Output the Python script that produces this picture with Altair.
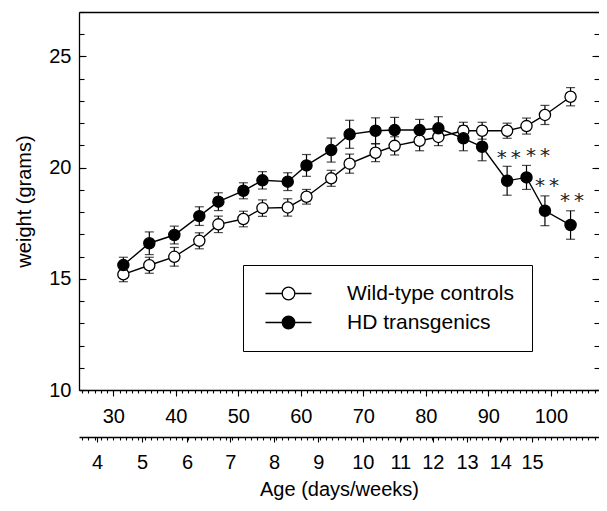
import altair as alt
import pandas as pd

# ---- data ----
days = [31.6, 35.75, 39.75, 43.75, 46.8, 50.8, 53.85, 57.9, 60.9, 64.85, 67.8,
        71.95, 75.0, 79.0, 82.0, 86.0, 89.0, 93.0, 96.1, 99.05, 103.15]
wt_weight = [15.20, 15.61, 15.99, 16.71, 17.45, 17.69, 18.18, 18.21, 18.69, 19.52, 20.18,
             20.67, 20.98, 21.21, 21.38, 21.66, 21.66, 21.66, 21.87, 22.37, 23.19]
wt_sem = [0.33, 0.36, 0.42, 0.36, 0.37, 0.35, 0.37, 0.39, 0.33, 0.36, 0.43,
          0.40, 0.41, 0.45, 0.39, 0.38, 0.38, 0.34, 0.36, 0.43, 0.41]
hd_weight = [15.62, 16.60, 16.97, 17.82, 18.47, 18.96, 19.43, 19.37, 20.10, 20.79, 21.50,
             21.66, 21.69, 21.69, 21.77, 21.32, 20.94, 19.41, 19.56, 18.06, 17.42]
hd_sem = [0.35, 0.51, 0.40, 0.42, 0.40, 0.36, 0.39, 0.40, 0.49, 0.54, 0.63,
          0.58, 0.57, 0.48, 0.52, 0.56, 0.63, 0.65, 0.54, 0.67, 0.64]
groups = ["Wild-type controls", "HD transgenics"]

sig_days = [93.25, 97.94, 99.38, 103.38]
sig_weight = [20.57, 20.67, 19.29, 18.62]
sig_text = ["*\u2009*", "*\u2009*", "*\u2009*", "*\u2009*"]

day_major = [30, 40, 50, 60, 70, 80, 90, 100]
day_minor = list(range(25, 108))
week_labels = ["4", "5", "6", "7", "8", "9", "10", "11", "12", "13", "14", "15"]
week_pos = [27.4, 34.6, 41.8, 48.7, 55.7, 62.8, 69.9, 75.9, 81.1, 86.6, 91.9, 97.0]
y_major = [10, 15, 20, 25]
y_minor = list(range(10, 28))

rows = []
for g, w, s in [(groups[0], wt_weight, wt_sem), (groups[1], hd_weight, hd_sem)]:
    for d, wv, sv in zip(days, w, s):
        rows.append({"group": g, "day": d, "weight": wv, "lo": wv - sv, "hi": wv + sv})
df = pd.DataFrame(rows)
sig = pd.DataFrame({"day": sig_days, "weight": sig_weight, "t": sig_text})

W, H = 520, 378
XDOM = [24.5, 107.7]
YDOM = [10, 27]
FONT = "Liberation Sans"
FS = 20

xs = alt.Scale(domain=XDOM, nice=False, zero=False)
ys = alt.Scale(domain=YDOM, nice=False, zero=False)
base = alt.Chart(df)


def ax_layer(xaxis=None, yaxis=None):
    return base.mark_point(opacity=0).encode(
        x=alt.X("day:Q", scale=xs, axis=xaxis),
        y=alt.Y("weight:Q", scale=ys, axis=yaxis),
    )


common = dict(grid=False, domainColor="black", tickColor="black", labelColor="black",
              labelFont=FONT, labelFontSize=FS, titleFont=FONT, titleFontSize=FS,
              titleColor="black", titleFontWeight="normal", domainWidth=1.3, tickWidth=1.1)

layers = [
    # days axis, major
    ax_layer(xaxis=alt.Axis(orient="bottom", values=day_major, tickSize=6, labelPadding=10,
                            title=None, labelFlush=False, **common)),
    # days axis, minor
    ax_layer(xaxis=alt.Axis(orient="bottom", values=day_minor, tickSize=3, labels=False,
                            domain=False, title=None, **common)),
    # weeks axis
    ax_layer(xaxis=alt.Axis(orient="bottom", offset=47, values=week_pos, tickSize=5,
                            labelPadding=10, labelFlush=False,
                            labelExpr="%s[indexof(%s, datum.value)]" % (week_labels, week_pos),
                            title="Age (days/weeks)", titlePadding=7, **common)),
    ax_layer(xaxis=alt.Axis(orient="bottom", offset=47, values=day_minor, tickSize=3,
                            labels=False, domain=False, title=None, **common)),
    # top border
    ax_layer(xaxis=alt.Axis(orient="top", ticks=False, labels=False, title=None, **common)),
    # left labels
    ax_layer(yaxis=alt.Axis(orient="left", values=y_major, ticks=False, tickSize=0,
                            labelPadding=8, title="weight (grams)", titlePadding=14, **common)),
    # left inward ticks
    ax_layer(yaxis=alt.Axis(orient="right", offset=-W, values=y_minor, tickSize=5,
                            labels=False, domain=False, title=None, **common)),
    ax_layer(yaxis=alt.Axis(orient="right", offset=-W, values=y_major, tickSize=7,
                            labels=False, domain=False, title=None, **common)),
    # right inward ticks
    ax_layer(yaxis=alt.Axis(orient="left", offset=-W, values=y_minor, tickSize=5,
                            labels=False, domain=False, title=None, **common)),
    ax_layer(yaxis=alt.Axis(orient="left", offset=-W, values=y_major, tickSize=7,
                            labels=False, domain=False, title=None, **common)),
]

X = alt.X("day:Q", scale=xs, axis=None)
Y = alt.Y("weight:Q", scale=ys, axis=None)

lines = base.mark_line(color="black", strokeWidth=1.4).encode(
    x=X, y=Y, detail="group:N", order="day:Q")
err = base.mark_rule(color="black", strokeWidth=1.2).encode(
    x=X, y=alt.Y("lo:Q", scale=ys, axis=None), y2="hi:Q")
cap_lo = base.mark_tick(color="black", orient="horizontal", size=9, thickness=1.2).encode(
    x=X, y=alt.Y("lo:Q", scale=ys, axis=None))
cap_hi = base.mark_tick(color="black", orient="horizontal", size=9, thickness=1.2).encode(
    x=X, y=alt.Y("hi:Q", scale=ys, axis=None))

SYM = "M-3.65,0L-1,0M1,0L3.65,0M-1,0A1,1,0,1,1,1,0A1,1,0,1,1,-1,0Z"
points = base.mark_point(filled=True, shape="circle", size=125, stroke="black",
                         strokeWidth=1.3, opacity=1).encode(
    x=X, y=Y,
    fill=alt.Fill("group:N", scale=alt.Scale(domain=groups, range=["white", "black"]),
                  legend=alt.Legend(title=None, orient="none", legendX=164, legendY=253,
                                    symbolType=SYM, symbolSize=159, symbolStrokeColor="black",
                                    symbolStrokeWidth=1.3, symbolOffset=17, labelOffset=48,
                                    labelFont=FONT, labelFontSize=21, labelColor="black",
                                    labelLimit=400, labelExpr="datum.label + ' '",
                                    padding=18, rowPadding=7, strokeColor="black",
                                    fillColor="white", cornerRadius=0)),
)

stars = alt.Chart(sig).mark_text(font="DejaVu Sans", fontSize=20, color="#222222",
                                 align="center", baseline="middle", dy=3).encode(
    x=alt.X("day:Q", scale=xs, axis=None), y=alt.Y("weight:Q", scale=ys, axis=None), text="t:N")

chart = alt.layer(*layers, lines, err, cap_lo, cap_hi, points, stars).resolve_axis(
    x="independent", y="independent"
).properties(
    width=W, height=H,
    autosize=alt.AutoSizeParams(type="none"),
    padding={"left": 71, "top": 4, "right": 0, "bottom": 112},
).configure_view(stroke=None).configure(background="white")

chart.save("out.html", embed_options={"renderer": "svg", "actions": False})
